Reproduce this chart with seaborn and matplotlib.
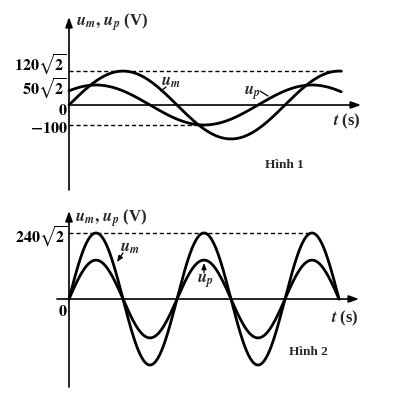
import numpy as np
import pandas as pd
import matplotlib
matplotlib.use("Agg")
import matplotlib.pyplot as plt
import seaborn as sns

# ---------------- data ----------------
# Figure 1: u_m = U_m sin(wt), u_p = U_p sin(wt + phi)
fig1_series = ["u_m", "u_p"]
fig1_amplitudes = [120 * np.sqrt(2), 100.0]      # V
fig1_phases = [0.0, np.pi / 4]                   # rad (u_p starts at 50*sqrt(2))
fig1_end_phase = 2.52 * np.pi                    # extent of the curves (rad)
fig1_ticks = [120 * np.sqrt(2), 50 * np.sqrt(2), 0, -100]
fig1_tick_labels = [r"$\mathbf{120}\sqrt{\mathbf{2}}$", r"$\mathbf{50}\sqrt{\mathbf{2}}$",
                    r"$\mathbf{0}$", r"$\mathbf{-100}$"]

# Figure 2: both in phase
fig2_series = ["u_m", "u_p"]
fig2_amplitudes = [240 * np.sqrt(2), 200.0]
fig2_phases = [0.0, 0.0]
fig2_end_phase = 5 * np.pi
fig2_tick_labels = [r"$\mathbf{240}\sqrt{\mathbf{2}}$", r"$\mathbf{0}$"]

# ---------------- style ----------------
sns.set_theme(style="white")
plt.rcParams["font.family"] = ["Liberation Serif", "DejaVu Serif"]
plt.rcParams["mathtext.fontset"] = "stix"

W, H = 393, 406
fig = plt.figure(figsize=(W / 100, H / 100), dpi=100)
fig.patch.set_facecolor("white")


def make_axes(px_left, px_right, px_top, px_bottom):
    return fig.add_axes([px_left / W, 1 - px_bottom / H,
                         (px_right - px_left) / W, (px_bottom - px_top) / H])


def curves_df(names, amps, phases, end):
    t = np.linspace(0, end, 600)
    rows = []
    for n, a, p in zip(names, amps, phases):
        rows.append(pd.DataFrame({"wt": t, "u": a * np.sin(t + p), "series": n}))
    return pd.concat(rows, ignore_index=True)


AX_ORIGIN_X = 69
# ---------- top panel ----------
k1 = np.pi / 108          # rad per pixel
s1 = 0.2                  # pixel per volt
z1 = 106                  # pixel row of zero
ax1 = make_axes(45, 372, 12, 198)
ax1.set_xlim((45 - AX_ORIGIN_X) * k1, (372 - AX_ORIGIN_X) * k1)
ax1.set_ylim(-(198 - z1) / s1, (z1 - 12) / s1)
ax1.axis("off")

df1 = curves_df(fig1_series, fig1_amplitudes, fig1_phases, fig1_end_phase)
sns.lineplot(data=df1, x="wt", y="u", hue="series", palette=["black", "black"],
             estimator=None, sort=False, legend=False, ax=ax1, linewidth=2.0)

arrow = dict(arrowstyle="-|>,head_length=0.5,head_width=0.18", color="black", lw=1.2,
             shrinkA=0, shrinkB=0)
ax1.annotate("", xy=(0, (z1 - 18) / s1), xytext=(0, -(191 - z1) / s1), arrowprops=arrow)
ax1.annotate("", xy=((361 - AX_ORIGIN_X) * k1, 0), xytext=(0, 0), arrowprops=arrow)
ax1.plot([0, (342 - AX_ORIGIN_X) * k1], [fig1_ticks[0]] * 2, ls=(0, (3, 2)), color="black", lw=1.0)
ax1.plot([0, 5 * np.pi / 4], [fig1_ticks[3]] * 2, ls=(0, (3, 2)), color="black", lw=1.0)

tick_y1 = [205, 88, -25, -115]
for lab, yy in zip(fig1_tick_labels, tick_y1):
    ax1.text(-0.05, yy, lab, ha="right", va="center", fontsize=11.5, color="black")

ax1.text(0.2, 420, r"$\mathbfit{u}_{\mathbfit{m}}\mathbf{,}\ \mathbfit{u}_{\mathbfit{p}}$ (V)",
         fontsize=12, fontweight="bold", ha="left", va="center")
ax1.text((333 - AX_ORIGIN_X) * k1, -(121 - z1) / s1, r"$\mathbfit{t}$ (s)", fontsize=12,
         fontweight="bold", ha="left", va="center")
ax1.text((265 - AX_ORIGIN_X) * k1, -(165 - z1) / s1, "Hình 1", fontsize=9.5,
         fontweight="bold", ha="left", va="center")
ax1.text((161 - AX_ORIGIN_X) * k1, (z1 - 82) / s1, r"$\mathbfit{u}_{\mathbfit{m}}$",
         fontsize=12, ha="left", va="center")
ax1.plot([(166 - AX_ORIGIN_X) * k1, (161 - AX_ORIGIN_X) * k1],
         [(z1 - 88) / s1, (z1 - 92) / s1], color="black", lw=0.9)
ax1.text((244 - AX_ORIGIN_X) * k1, (z1 - 93) / s1, r"$\mathbfit{u}_{\mathbfit{p}}$",
         fontsize=12, ha="left", va="center")
ax1.plot([(260 - AX_ORIGIN_X) * k1, (268 - AX_ORIGIN_X) * k1],
         [(z1 - 92) / s1, (z1 - 97) / s1], color="black", lw=0.9)

# ---------- bottom panel ----------
k2 = np.pi / 54
s2 = 0.1945
z2 = 300
ax2 = make_axes(45, 372, 203, 398)
ax2.set_xlim((45 - AX_ORIGIN_X) * k2, (372 - AX_ORIGIN_X) * k2)
ax2.set_ylim(-(398 - z2) / s2, (z2 - 203) / s2)
ax2.axis("off")

df2 = curves_df(fig2_series, fig2_amplitudes, fig2_phases, fig2_end_phase)
sns.lineplot(data=df2, x="wt", y="u", hue="series", palette=["black", "black"],
             estimator=None, sort=False, legend=False, ax=ax2, linewidth=2.0)

ax2.annotate("", xy=(0, (z2 - 212) / s2), xytext=(0, -(388 - z2) / s2), arrowprops=arrow)
ax2.annotate("", xy=((359 - AX_ORIGIN_X) * k2, 0), xytext=((57 - AX_ORIGIN_X) * k2, 0),
             arrowprops=arrow)
ax2.plot([0, 4.5 * np.pi], [fig2_amplitudes[0]] * 2, ls=(0, (3, 2)), color="black", lw=1.0)

tick_y2 = [324, -62]
for lab, yy in zip(fig2_tick_labels, tick_y2):
    ax2.text(-0.08, yy, lab, ha="right", va="center", fontsize=11.5, color="black")

ax2.text(0.35, 421, r"$\mathbfit{u}_{\mathbfit{m}}\mathbf{,}\ \mathbfit{u}_{\mathbfit{p}}$ (V)",
         fontsize=12, fontweight="bold", ha="left", va="center")
ax2.text((331 - AX_ORIGIN_X) * k2, -(318 - z2) / s2, r"$\mathbfit{t}$ (s)", fontsize=12,
         fontweight="bold", ha="left", va="center")
ax2.text((289 - AX_ORIGIN_X) * k2, -(352 - z2) / s2, "Hình 2", fontsize=9.5,
         fontweight="bold", ha="left", va="center")
ax2.text((120 - AX_ORIGIN_X) * k2, (z2 - 248) / s2, r"$\mathbfit{u}_{\mathbfit{m}}$",
         fontsize=12, ha="left", va="center")
ax2.annotate("", xy=((117 - AX_ORIGIN_X) * k2, (z2 - 263) / s2),
             xytext=((123 - AX_ORIGIN_X) * k2, (z2 - 254) / s2),
             arrowprops=dict(arrowstyle="-|>,head_length=0.3,head_width=0.12", color="black",
                             lw=0.9, shrinkA=0, shrinkB=0))
ax2.text((197 - AX_ORIGIN_X) * k2, (z2 - 281) / s2, r"$\mathbfit{u}_{\mathbfit{p}}$",
         fontsize=12, ha="left", va="center")
ax2.annotate("", xy=((204 - AX_ORIGIN_X) * k2, (z2 - 264) / s2),
             xytext=((204 - AX_ORIGIN_X) * k2, (z2 - 274) / s2),
             arrowprops=dict(arrowstyle="-|>,head_length=0.3,head_width=0.12", color="black",
                             lw=0.9, shrinkA=0, shrinkB=0))

fig.savefig("out.png", dpi=100, facecolor="white")
